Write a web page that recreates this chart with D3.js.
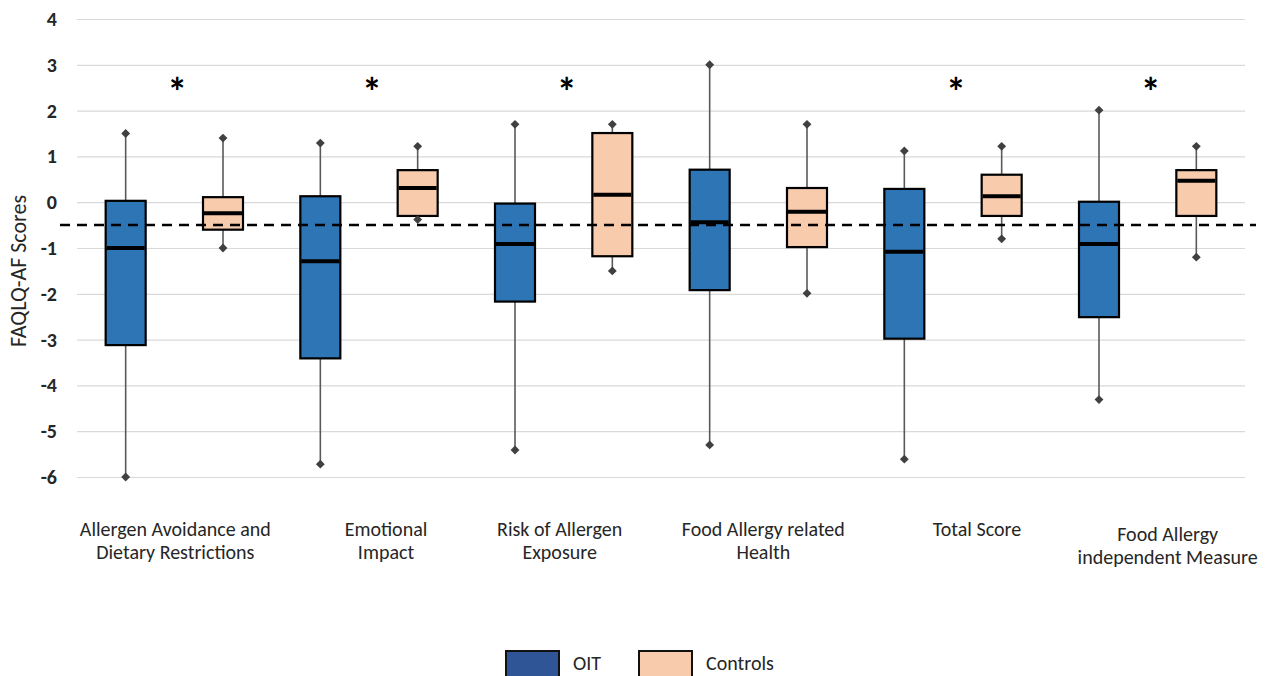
<!DOCTYPE html>
<html>
<head>
<meta charset="utf-8">
<script src="https://cdn.jsdelivr.net/npm/d3@7/dist/d3.min.js"></script>
<style>
  html, body { margin: 0; padding: 0; background: #fff; }
  svg { display: block; }
  text { font-family: Carlito, Calibri, Lato, "Open Sans", sans-serif; }
</style>
</head>
<body>
<svg id="chart" width="1267" height="676"></svg>
<script>
// ---- data ----
const categories = [
  ["Allergen Avoidance and", "Dietary Restrictions"],
  ["Emotional", "Impact"],
  ["Risk of Allergen", "Exposure"],
  ["Food Allergy related", "Health"],
  ["Total Score"],
  ["Food Allergy", "independent Measure"]
];
const seriesNames = ["OIT", "Controls"];
// [min, q1, median, q3, max]
const oitStats = [
  [-6.0, -3.12, -1.0, 0.03, 1.5],
  [-5.72, -3.41, -1.29, 0.13, 1.29],
  [-5.41, -2.17, -0.91, -0.03, 1.70],
  [-5.30, -1.92, -0.44, 0.71, 3.0],
  [-5.61, -2.98, -1.08, 0.29, 1.12],
  [-4.31, -2.51, -0.91, 0.01, 2.01]
];
const controlStats = [
  [-1.0, -0.60, -0.24, 0.11, 1.40],
  [-0.38, -0.30, 0.31, 0.70, 1.22],
  [-1.50, -1.18, 0.16, 1.51, 1.70],
  [-1.99, -0.98, -0.21, 0.31, 1.70],
  [-0.80, -0.30, 0.13, 0.60, 1.22],
  [-1.20, -0.30, 0.47, 0.70, 1.22]
];
const significant = [true, true, true, false, true, true];
const significanceLevel = 2.55;
const referenceValue = -0.5;
const yTicks = [4, 3, 2, 1, 0, -1, -2, -3, -4, -5, -6];
const yTitle = "FAQLQ-AF Scores";

// ---- layout / style ----
const plotLeft = 77, plotRight = 1245, plotTop = 19, plotBottom = 477;
const labelDx = [1, 17, -4, 5, 24, 20];
const labelDy = [0, 0, 0, 0, 0, 5];
const fills = ["#2E75B6", "#F8CBAD"];
const legendFills = ["#2F5597", "#F8CBAD"];

const svg = d3.select("#chart");

const y = d3.scaleLinear().domain([-6, 4]).range([plotBottom, plotTop]);
const x = d3.scaleBand().domain(d3.range(categories.length)).range([plotLeft, plotRight]);
const inner = d3.scaleBand().domain(seriesNames).range([0, x.bandwidth()]);
const boxW = 40;

// gridlines
const yAxis = d3.axisLeft(y).tickValues(yTicks).tickSize(-(plotRight - plotLeft)).tickFormat(d => d < 0 ? "-" + Math.abs(d) : String(d));
const gAxis = svg.append("g").attr("transform", `translate(${plotLeft},0)`).call(yAxis);
gAxis.select(".domain").remove();
gAxis.selectAll(".tick line").attr("stroke", "#D9D9D9").attr("stroke-width", 1.2);
gAxis.selectAll(".tick text")
  .attr("x", -20)
  .attr("font-size", 20)
  .attr("font-weight", "bold")
  .attr("fill", "#262626")
  .style("font-family", "Carlito, Calibri, Lato, sans-serif");

// y title
svg.append("text")
  .attr("transform", `translate(26,271) rotate(-90)`)
  .attr("text-anchor", "middle")
  .attr("font-size", 22)
  .attr("fill", "#262626")
  .text(yTitle);

// boxes
const groups = [oitStats, controlStats];
groups.forEach((stats, si) => {
  const name = seriesNames[si];
  const g = svg.append("g");
  stats.forEach((s, ci) => {
    const cx = x(ci) + inner(name) + inner.bandwidth() / 2;
    const [mn, q1, med, q3, mx] = s;
    g.append("line").attr("x1", cx).attr("x2", cx).attr("y1", y(mx)).attr("y2", y(q3))
      .attr("stroke", "#595959").attr("stroke-width", 1.6);
    g.append("line").attr("x1", cx).attr("x2", cx).attr("y1", y(q1)).attr("y2", y(mn))
      .attr("stroke", "#595959").attr("stroke-width", 1.6);
    g.append("rect").attr("x", cx - boxW / 2).attr("width", boxW)
      .attr("y", y(q3)).attr("height", y(q1) - y(q3))
      .attr("fill", fills[si]).attr("stroke", "#000").attr("stroke-width", 2.2);
    g.append("line").attr("x1", cx - boxW / 2 + 1).attr("x2", cx + boxW / 2 - 1)
      .attr("y1", y(med)).attr("y2", y(med))
      .attr("stroke", "#000").attr("stroke-width", 4);
    [mn, mx].forEach(v => {
      g.append("path")
        .attr("d", d3.symbol(d3.symbolDiamond2, 50)())
        .attr("transform", `translate(${cx},${y(v)})`)
        .attr("fill", "#404040");
    });
  });
});

// reference dashed line
svg.append("line")
  .attr("x1", 60).attr("x2", 1256)
  .attr("y1", y(referenceValue)).attr("y2", y(referenceValue))
  .attr("stroke", "#000").attr("stroke-width", 2.5)
  .attr("stroke-dasharray", "10,7");

// significance asterisks
svg.append("g").selectAll("text")
  .data(significant.map((d, i) => ({ d, i })).filter(o => o.d))
  .join("text")
  .attr("x", o => x(o.i) + x.bandwidth() / 2 + 3)
  .attr("y", y(significanceLevel) + 21)
  .attr("text-anchor", "middle")
  .attr("font-size", 40)
  .attr("font-weight", "bold")
  .attr("fill", "#000")
  .text("*");

// category labels
const lab = svg.append("g");
categories.forEach((lines, i) => {
  const cx = x(i) + x.bandwidth() / 2 + labelDx[i];
  const t = lab.append("text")
    .attr("x", cx)
    .attr("y", 536 + labelDy[i])
    .attr("text-anchor", "middle")
    .attr("font-size", 20)
    .attr("fill", "#262626");
  lines.forEach((ln, k) => {
    t.append("tspan").attr("x", cx).attr("dy", k === 0 ? 0 : 23).text(ln);
  });
});

// legend
const legend = svg.append("g");
const legendX = [506, 639];
seriesNames.forEach((n, i) => {
  legend.append("rect").attr("x", legendX[i]).attr("y", 651).attr("width", 53).attr("height", 30)
    .attr("fill", legendFills[i]).attr("stroke", "#111").attr("stroke-width", 2);
  legend.append("text").attr("x", legendX[i] + 67).attr("y", 670)
    .attr("font-size", 20).attr("fill", "#262626").text(n);
});
</script>
</body>
</html>
